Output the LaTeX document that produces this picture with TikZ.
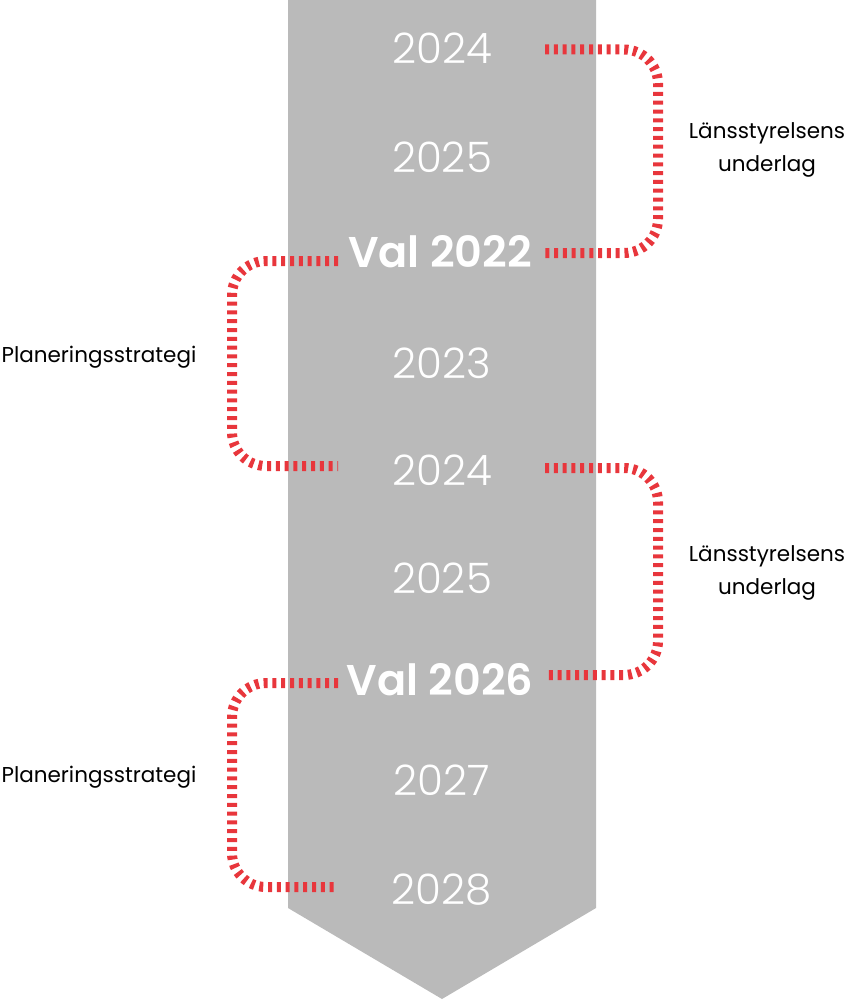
\documentclass[tikz,border=0pt]{standalone}
\usepackage{fontspec}
\setmainfont{Poppins}[BoldFont={Poppins SemiBold}]
\newfontfamily\yearfont{Poppins Light}
\usepackage{tikz}
\usetikzlibrary{arrows,calc}

\definecolor{bargray}{HTML}{BABABA}
\definecolor{dashred}{HTML}{E8363C}

\begin{document}
\begin{tikzpicture}[x=1pt,y=-1pt,
		yearnode/.style={text=white,font=\yearfont\fontsize{42}{42}\selectfont},
		valnode/.style={text=white,font=\fontsize{43}{43}\selectfont\bfseries},
		sidenote/.style={align=center,font=\fontsize{21.5}{33}\selectfont},
		bracketline/.style={draw=dashred,line width=10pt,dash pattern=on 4pt off 4.8pt,rounded corners=34pt}]
			\useasboundingbox (0,0) rectangle (850,1000);

			% the timeline arrow
			\fill[bargray] (288,0) -- (596,0) -- (596,908) -- (442,999) -- (288,908) -- cycle;

			\node[yearnode] (Y24a) at (442,48) {2024};
			\node[yearnode] (Y25a) at (442,157) {2025};
			\node[valnode] (V22) at (440,252) {Val 2022};
			\node[yearnode] (Y23) at (442,363) {2023};
			\node[yearnode] (Y24b) at (442,470) {2024};
			\node[yearnode] (Y25b) at (442,578) {2025};
			\node[valnode] (V26) at (440,680) {Val 2026};
			\node[yearnode] (Y27) at (442,780) {2027};
			\node[yearnode] (Y28) at (442,890) {2028};

			% bracket ends
			\coordinate (R) at (545,0);
			\coordinate (RV) at (658,0);
			\coordinate (L) at (338,0);
			\coordinate (LV) at (232,0);

			\node[sidenote] (LU1) at (767,150) {Länsstyrelsens\\underlag};
			\node[sidenote] (PS1) at (99,357) {Planeringsstrategi};
			\node[sidenote] (LU2) at (767,573) {Länsstyrelsens\\underlag};
			\node[sidenote] (PS2) at (99,777) {Planeringsstrategi};

			\draw[bracketline] ([yshift=-1.5pt]Y24a.center -| R) -- ([yshift=-1.5pt]Y24a.center -| RV) |- ([yshift=-1pt]V22.center -| R);
			\draw[bracketline] ([yshift=-9pt]V22.center -| L) -- ([yshift=-9pt]V22.center -| LV) |- ([yshift=4pt]Y24b.center -| L);
			\draw[bracketline] ([yshift=2pt]Y24b.center -| R) -- ([yshift=2pt]Y24b.center -| RV) |- ([yshift=5pt]V26.center -| R);
			\draw[bracketline] ([yshift=-3pt]V26.center -| L) -- ([yshift=-3pt]V26.center -| LV) |- ([yshift=3pt]Y28.center -| L);
\end{tikzpicture}
\end{document}
